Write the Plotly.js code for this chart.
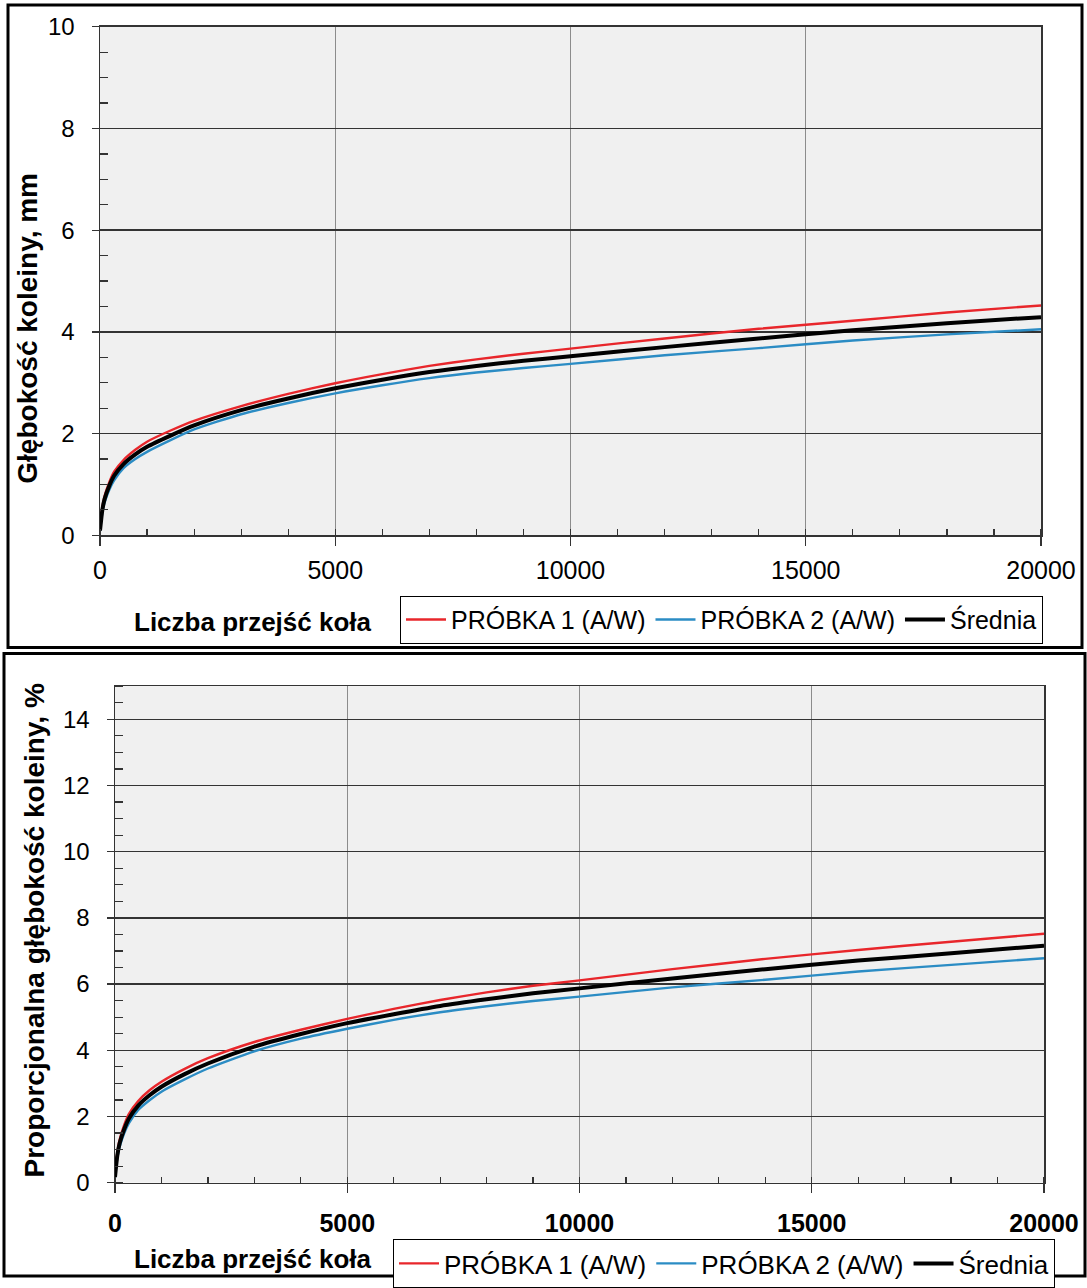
<!DOCTYPE html>
<html>
<head>
<meta charset="utf-8">
<script src="https://cdn.plot.ly/plotly-3.0.1.min.js"></script>
<style>html,body{margin:0;padding:0;background:#fff;}#chart{width:1087px;height:1288px;}</style>
</head>
<body>
<div id="chart"></div>
<script>
// ---- data ----
const passes = [0, 50, 100, 200, 300, 500, 750, 1000, 1500, 2000, 3000, 4000, 5000, 6000, 7000, 8000, 9000, 10000, 12000, 14000, 16000, 18000, 20000];

// Rut depth, mm
const depthSample1 = [0.10, 0.55, 0.78, 1.05, 1.25, 1.48, 1.68, 1.84, 2.06, 2.25, 2.54, 2.78, 2.99, 3.17, 3.33, 3.46, 3.57, 3.67, 3.87, 4.06, 4.22, 4.38, 4.52];
const depthSample2 = [0.08, 0.45, 0.65, 0.90, 1.08, 1.32, 1.50, 1.64, 1.87, 2.08, 2.38, 2.60, 2.79, 2.95, 3.09, 3.20, 3.29, 3.37, 3.54, 3.68, 3.83, 3.95, 4.05];
const depthMean    = [0.09, 0.50, 0.72, 0.98, 1.17, 1.40, 1.59, 1.74, 1.96, 2.16, 2.46, 2.69, 2.89, 3.06, 3.21, 3.33, 3.43, 3.52, 3.70, 3.87, 4.03, 4.17, 4.29];

// Proportional rut depth, %
const propSample1 = [0.20, 0.90, 1.30, 1.75, 2.08, 2.47, 2.80, 3.05, 3.44, 3.76, 4.25, 4.62, 4.95, 5.25, 5.52, 5.75, 5.95, 6.11, 6.45, 6.76, 7.03, 7.28, 7.52];
const propSample2 = [0.15, 0.75, 1.08, 1.50, 1.80, 2.20, 2.50, 2.75, 3.12, 3.45, 3.97, 4.35, 4.65, 4.92, 5.15, 5.33, 5.49, 5.62, 5.90, 6.13, 6.38, 6.58, 6.78];
const propMean    = [0.17, 0.82, 1.19, 1.62, 1.94, 2.33, 2.65, 2.90, 3.28, 3.60, 4.11, 4.49, 4.82, 5.09, 5.34, 5.54, 5.72, 5.87, 6.17, 6.45, 6.71, 6.93, 7.16];

const seriesNames = ['PRÓBKA 1 (A/W)', 'PRÓBKA 2 (A/W)', 'Średnia'];
const xTitle = 'Liczba przejść koła';
const yTitleTop = 'Głębokość koleiny, mm';
const yTitleBottom = 'Proporcjonalna głębokość koleiny, %';

// ---- styling ----
const W = 1087, H = 1288;
const px = x => x / W;
const py = y => 1 - y / H;
const FONT = 'Liberation Sans, Arial, sans-serif';
const RED = '#e8262b', BLUE = '#2b8cc4', BLACK = '#000000';
const colors = [RED, BLUE, BLACK];
const widths = [2.4, 2.4, 4];

function mk(xs, ys, i, xa, ya, leg) {
  return {
    x: xs, y: ys, type: 'scatter', mode: 'lines', name: seriesNames[i],
    xaxis: xa, yaxis: ya, legend: leg, showlegend: true,
    line: {color: colors[i], width: widths[i], shape: 'spline', smoothing: 0.6},
    hoverinfo: 'skip'
  };
}

const traces = [
  mk(passes, depthSample1, 0, 'x', 'y', 'legend'),
  mk(passes, depthSample2, 1, 'x', 'y', 'legend'),
  mk(passes, depthMean, 2, 'x', 'y', 'legend'),
  mk(passes, propSample1, 0, 'x2', 'y2', 'legend2'),
  mk(passes, propSample2, 1, 'x2', 'y2', 'legend2'),
  mk(passes, propMean, 2, 'x2', 'y2', 'legend2')
];

function xAxis(domain, anchor, bold, standoff) {
  return {
    domain: domain, anchor: anchor, range: [0, 20000], dtick: 5000, tick0: 0, tickformat: 'd',
    showline: true, linecolor: '#333', linewidth: 1.5, mirror: true,
    ticks: 'outside', ticklen: 9, tickcolor: '#333', tickwidth: 1.3,
    showgrid: true, gridcolor: '#8c8c8c', gridwidth: 1, zeroline: false,
    tickfont: {family: FONT, size: 25, color: '#000', weight: bold ? 'bold' : 'normal'},
    ticklabelstandoff: standoff,
    minor: {dtick: 1000, tick0: 0, ticks: 'inside', ticklen: 6, tickcolor: '#333', tickwidth: 1.2, showgrid: false},
    fixedrange: true
  };
}
function yAxis(domain, anchor, max) {
  return {
    domain: domain, anchor: anchor, range: [0, max], dtick: 2, tick0: 0,
    showline: true, linecolor: '#333', linewidth: 1.5, mirror: true,
    ticks: 'outside', ticklen: 7, tickcolor: '#333', tickwidth: 1.3,
    showgrid: true, gridcolor: '#333', gridwidth: 1.5, zeroline: false,
    tickfont: {family: FONT, size: 24, color: '#000'},
    ticklabelstandoff: 12,
    minor: {dtick: 0.5, tick0: 0, ticks: 'inside', ticklen: 8, tickcolor: '#333', tickwidth: 1.2, showgrid: false},
    fixedrange: true
  };
}

const legendBase = {
  orientation: 'h', xanchor: 'left', yanchor: 'top',
  bgcolor: '#ffffff', bordercolor: '#000', borderwidth: 1,
  itemwidth: 40, tracegroupgap: 0, traceorder: 'normal'
};

const layout = {
  width: W, height: H,
  margin: {l: 0, r: 0, t: 0, b: 0, pad: 0},
  paper_bgcolor: '#ffffff', plot_bgcolor: '#f0f0f0',
  font: {family: FONT, color: '#000'},
  xaxis: xAxis([px(100), px(1041)], 'y', false, 3),
  yaxis: yAxis([py(539), py(27)], 'x', 10),
  xaxis2: xAxis([px(115), px(1044)], 'y2', true, 9),
  yaxis2: yAxis([py(1191), py(691)], 'x2', 15),
  legend: Object.assign({}, legendBase, {x: px(400), y: py(600), font: {family: FONT, size: 25, color: '#000'}}),
  legend2: Object.assign({}, legendBase, {x: px(393), y: py(1248), font: {family: FONT, size: 26, color: '#000'}}),
  shapes: [
    {type: 'rect', xref: 'paper', yref: 'paper', x0: px(8), x1: px(1082), y0: py(652), y1: py(5), line: {color: '#000', width: 3}, layer: 'below'},
    {type: 'rect', xref: 'paper', yref: 'paper', x0: px(4), x1: px(1085), y0: py(1285), y1: py(658), line: {color: '#000', width: 3}, layer: 'below'}
  ],
  annotations: [
    {text: xTitle, xref: 'paper', yref: 'paper', x: px(253), y: py(626), xanchor: 'center', yanchor: 'middle', showarrow: false,
     font: {family: FONT, size: 26, color: '#000', weight: 'bold'}},
    {text: xTitle, xref: 'paper', yref: 'paper', x: px(253), y: py(1268), xanchor: 'center', yanchor: 'middle', showarrow: false,
     font: {family: FONT, size: 26, color: '#000', weight: 'bold'}},
    {text: yTitleTop, xref: 'paper', yref: 'paper', x: px(28), y: py(331), xanchor: 'center', yanchor: 'middle', showarrow: false, textangle: -90,
     font: {family: FONT, size: 28, color: '#000', weight: 'bold'}},
    {text: yTitleBottom, xref: 'paper', yref: 'paper', x: px(34), y: py(937), xanchor: 'center', yanchor: 'middle', showarrow: false, textangle: -90,
     font: {family: FONT, size: 28, color: '#000', weight: 'bold'}}
  ],
  showlegend: true
};

Plotly.newPlot('chart', traces, layout, {staticPlot: true, displayModeBar: false});
</script>
</body>
</html>
